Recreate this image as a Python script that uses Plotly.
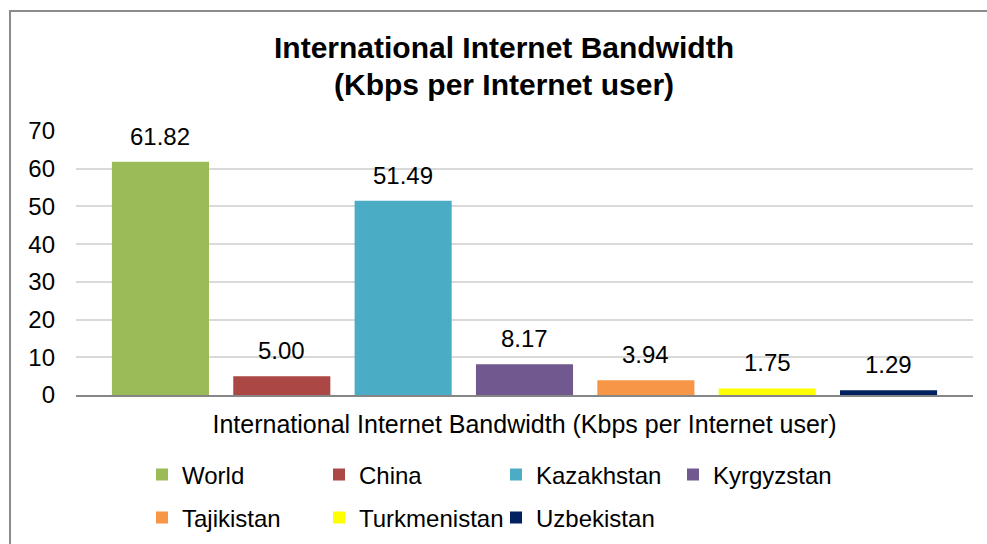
import plotly.graph_objects as go

category = ["International Internet Bandwidth (Kbps per Internet user)"]
series_names = ["World", "China", "Kazakhstan", "Kyrgyzstan", "Tajikistan", "Turkmenistan", "Uzbekistan"]
values = [61.82, 5.00, 51.49, 8.17, 3.94, 1.75, 1.29]
colors = ["#9BBB59", "#AB4744", "#4BACC6", "#71588F", "#F79646", "#FFFF00", "#002060"]
legend_rows = ["legend", "legend", "legend", "legend", "legend2", "legend2", "legend2"]
y_ticks = [0, 10, 20, 30, 40, 50, 60, 70]
title_lines = ["International Internet Bandwidth", "(Kbps per Internet user)"]

FONT = "Liberation Sans, Arial, sans-serif"
BARGAP = 0.053
BARGROUPGAP = 0.2

fig = go.Figure()
for name, val, col, lg in zip(series_names, values, colors, legend_rows):
    fig.add_trace(go.Bar(
        x=category, y=[val], name=name, marker=dict(color=col, line=dict(width=0)),
        legend=lg, hoverinfo="skip",
    ))

W, H = 987, 544
L, R, T, B = 76, 14, 131, 149
pw, ph = W - L - R, H - T - B

# data labels placed above each bar (positions derived from bar slots)
n = len(values)
slot = (1 - BARGAP) / n
annotations = []
for i, val in enumerate(values):
    annotations.append(dict(
        x=(i - (n - 1) / 2) * slot, y=val, xref="x", yref="y",
        text=f"{val:.2f}", showarrow=False, yanchor="bottom", yshift=10,
        font=dict(family=FONT, size=24, color="#000000"),
    ))

# two-line title
for line, ypx in zip(title_lines, [48, 84]):
    annotations.append(dict(
        x=(504 - L) / pw, y=(H - B - ypx) / ph, xref="paper", yref="paper",
        text=f"<b>{line}</b>", showarrow=False, xanchor="center", yanchor="middle",
        font=dict(family=FONT, size=30, color="#000000"),
    ))

fig.update_layout(
    width=W, height=H,
    margin=dict(l=L, r=R, t=T, b=B, autoexpand=False),
    paper_bgcolor="white", plot_bgcolor="white",
    barmode="group", bargap=BARGAP, bargroupgap=BARGROUPGAP,
    font=dict(family=FONT, size=24, color="#000000"),
    xaxis=dict(
        type="category", showline=True, linecolor="#868686", linewidth=2,
        showgrid=False, ticks="", tickfont=dict(size=25), ticklabelstandoff=6,
        fixedrange=True,
    ),
    yaxis=dict(
        range=[0, 70], tickvals=y_ticks, showgrid=True, gridcolor="#D9D9D9",
        gridwidth=1.5, zeroline=False, showline=False, ticks="",
        tickfont=dict(size=24), ticklabelstandoff=20, fixedrange=True,
    ),
    legend=dict(
        orientation="h", xref="container", yref="container",
        x=142 / W, xanchor="left", y=1 - 475 / H, yanchor="middle",
        entrywidth=132, font=dict(size=24), bgcolor="rgba(0,0,0,0)",
        traceorder="normal",
    ),
    legend2=dict(
        orientation="h", xref="container", yref="container",
        x=142 / W, xanchor="left", y=1 - 518 / H, yanchor="middle",
        entrywidth=132, font=dict(size=24), bgcolor="rgba(0,0,0,0)",
        traceorder="normal",
    ),
    annotations=annotations,
    shapes=[dict(
        type="rect", xref="paper", yref="paper",
        x0=(10 - L) / pw, x1=(W + 20 - L) / pw,
        y0=-(H + 20 - (H - B)) / ph, y1=(H - B - 11) / ph,
        line=dict(color="#8C8C8C", width=2), fillcolor="rgba(0,0,0,0)", layer="below",
    )],
    showlegend=True,
)

fig.write_html(
    "out.html",
    config={"displayModeBar": False},
    post_script="document.body.style.margin='0px';document.body.style.overflow='hidden';",
)
